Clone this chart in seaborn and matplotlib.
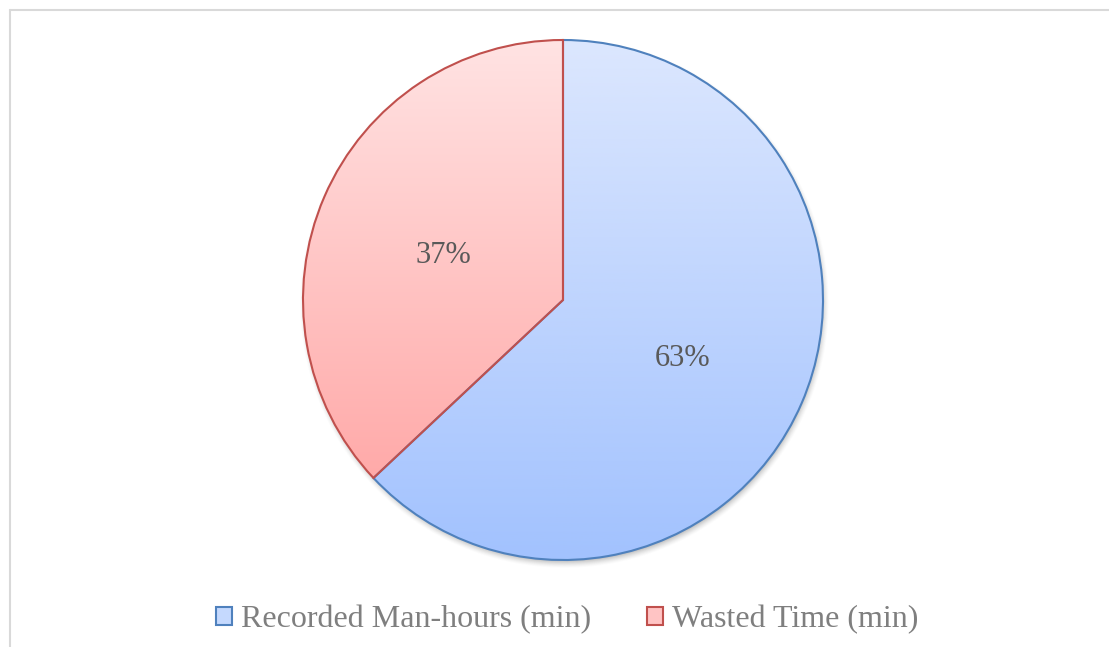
import numpy as np
import matplotlib
matplotlib.use("Agg")
import matplotlib.pyplot as plt
from matplotlib.patches import Patch
from matplotlib.colors import LinearSegmentedColormap
import seaborn as sns

# Share of total logged time
categories = ["Recorded Man-hours (min)", "Wasted Time (min)"]
shares = [63, 37]

sns.set_theme(style="white")
plt.rcParams["font.family"] = ["Liberation Serif", "DejaVu Serif"]

W, H = 1109, 647
fig = plt.figure(figsize=(W / 100, H / 100), dpi=100)
ax = fig.add_axes([0, 0, 1, 1])
ax.set_xlim(0, W)
ax.set_ylim(0, H)
ax.axis("off")

cx, cy, R = 563, H - 300, 260

edge_colors = ["#4F81BD", "#C0504D"]
grad_top = ["#DCE7FE", "#FFE3E3"]
grad_bottom = ["#A2C2FE", "#FF9F9E"]

# soft drop shadow under the pie
yy, xx = np.mgrid[0:H, 0:W]
d = np.hypot(xx - (cx + 1), yy - (cy - 4))
shadow = np.clip((R + 5 - d) / 9.0, 0, 1) ** 1.5
rgba = np.zeros((H, W, 4))
rgba[..., :3] = 0.35
rgba[..., 3] = 0.45 * shadow
ax.imshow(rgba, extent=(0, W, 0, H), origin="lower", zorder=0, interpolation="bilinear")

wedges, texts, autotexts = ax.pie(
    shares,
    center=(cx, cy),
    radius=R,
    startangle=90,
    counterclock=False,
    autopct="%d%%",
    pctdistance=0.5,
    wedgeprops=dict(linewidth=1.5, facecolor="none"),
    textprops=dict(fontsize=22, color="#595959"),
    frame=True,
)
ax.set_xlim(0, W)
ax.set_ylim(0, H)
ax.set_aspect("equal")
ax.axis("off")

# vertical gradient fill clipped to each wedge
grad = np.linspace(0, 1, 256).reshape(-1, 1)
for w, ec, top, bot in zip(wedges, edge_colors, grad_top, grad_bottom):
    w.set_edgecolor(ec)
    w.set_zorder(3)
    cmap = LinearSegmentedColormap.from_list("g", [bot, top])
    im = ax.imshow(grad, cmap=cmap, aspect="auto", origin="lower",
                   extent=(cx - R, cx + R, cy - R, cy + R), zorder=2)
    im.set_clip_path(w)
for t in autotexts:
    x, y = t.get_position()
    t.set_position((x, y - 7))
    t.set_zorder(4)

# legend
handles = [Patch(facecolor=c, edgecolor=e, linewidth=1.5)
           for c, e in zip(["#C5D9FE", "#FFC4C4"], edge_colors)]
leg = ax.legend(handles, categories, loc="center", bbox_to_anchor=(567.5 / W, 27 / H),
                ncol=2, frameon=False, fontsize=23, handlelength=0.5, handleheight=0.5,
                handletextpad=0.28, columnspacing=1.75, borderaxespad=0)
for t in leg.get_texts():
    t.set_color("#7F7F7F")

# chart area frame (top and left edges)
ax.plot([10, W], [H - 10, H - 10], color="#D9D9D9", lw=1.5, zorder=1, clip_on=False)
ax.plot([10, 10], [0, H - 10], color="#D9D9D9", lw=1.5, zorder=1, clip_on=False)

fig.savefig("out.png", dpi=100)
